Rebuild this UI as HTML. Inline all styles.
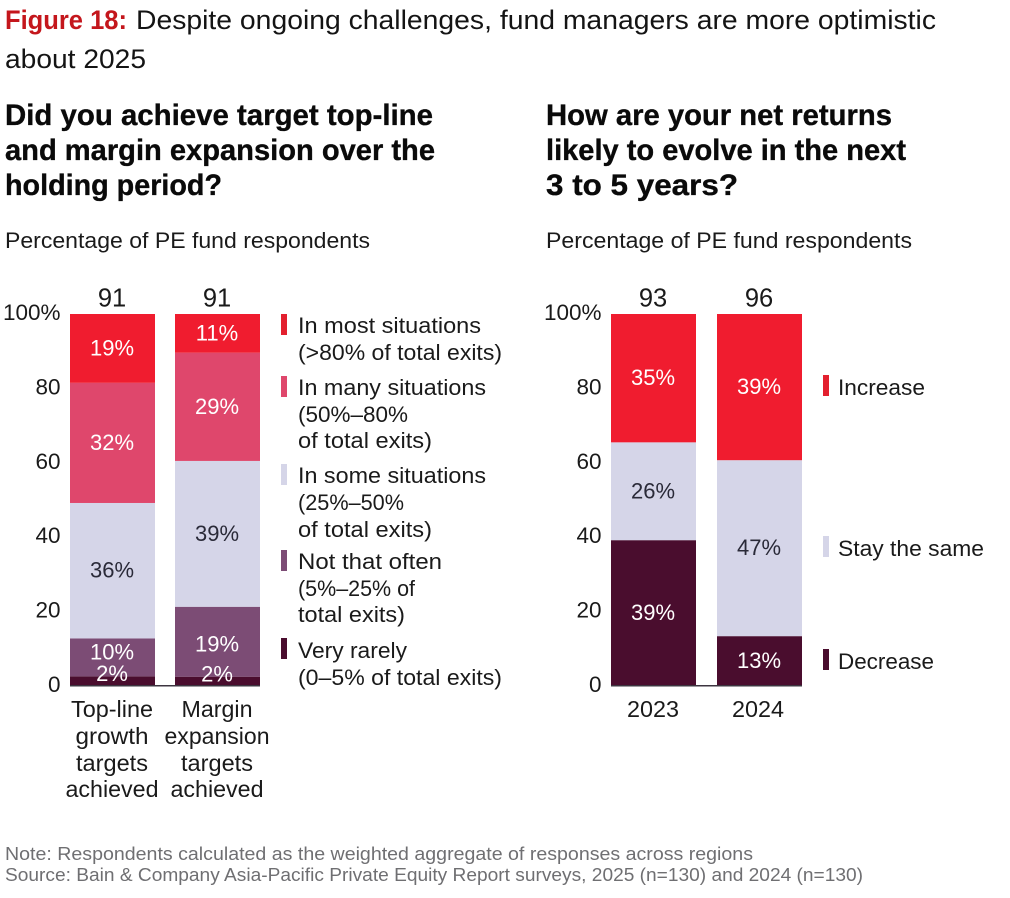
<!DOCTYPE html>
<html lang="en">
<head>
<meta charset="utf-8">
<title>Figure 18</title>
<style>
html,body{margin:0;padding:0;background:#fff;width:1010px;height:898px;overflow:hidden}
svg{display:block}
text{font-family:"Liberation Sans",sans-serif;fill:#1a1a1a}
.h{font-weight:700;font-size:29.5px;fill:#0a0a0a;stroke:#0a0a0a;stroke-width:.35px}
.t{font-size:26.5px;fill:#141414}
.sub{font-size:22px}
.lg{font-size:22.5px}
.ax{font-size:22.5px}
.cat{font-size:23.5px;text-anchor:middle}
.foot{font-size:18.5px;fill:#6f6f72}
</style>
</head>
<body>
<svg id="chart" xmlns="http://www.w3.org/2000/svg" width="1010" height="898" viewBox="0 0 1010 898">
  <rect width="1010" height="898" fill="#ffffff"/>
  <text x="5" y="29" class="t" style="font-weight:700;fill:#c4161c" textLength="122" lengthAdjust="spacingAndGlyphs">Figure 18:</text>
  <text x="136" y="29" class="t" textLength="800" lengthAdjust="spacingAndGlyphs">Despite ongoing challenges, fund managers are more optimistic</text>
  <text x="5" y="68" class="t" textLength="141" lengthAdjust="spacingAndGlyphs">about 2025</text>

  <g>
    <text x="5" y="125" class="h" textLength="428" lengthAdjust="spacingAndGlyphs">Did you achieve target top-line</text>
    <text x="5" y="160" class="h" textLength="430" lengthAdjust="spacingAndGlyphs">and margin expansion over the</text>
    <text x="5" y="195" class="h" textLength="217" lengthAdjust="spacingAndGlyphs">holding period?</text>
  </g>
  <text x="5" y="248" class="sub" textLength="365" lengthAdjust="spacingAndGlyphs">Percentage of PE fund respondents</text>

  <g>
    <text x="546" y="125" class="h" textLength="346" lengthAdjust="spacingAndGlyphs">How are your net returns</text>
    <text x="546" y="160" class="h" textLength="360" lengthAdjust="spacingAndGlyphs">likely to evolve in the next</text>
    <text x="546" y="195" class="h" textLength="192" lengthAdjust="spacingAndGlyphs">3 to 5 years?</text>
  </g>
  <text x="546" y="248" class="sub" textLength="366" lengthAdjust="spacingAndGlyphs">Percentage of PE fund respondents</text>

  <g id="plots"></g>

  <g>
    <text x="112" y="717" class="cat" textLength="82" lengthAdjust="spacingAndGlyphs">Top-line</text>
    <text x="112" y="744" class="cat" textLength="73" lengthAdjust="spacingAndGlyphs">growth</text>
    <text x="112" y="771" class="cat" textLength="72" lengthAdjust="spacingAndGlyphs">targets</text>
    <text x="112" y="797" class="cat" textLength="93" lengthAdjust="spacingAndGlyphs">achieved</text>
    <text x="217" y="717" class="cat" textLength="71" lengthAdjust="spacingAndGlyphs">Margin</text>
    <text x="217" y="744" class="cat" textLength="105" lengthAdjust="spacingAndGlyphs">expansion</text>
    <text x="217" y="771" class="cat" textLength="72" lengthAdjust="spacingAndGlyphs">targets</text>
    <text x="217" y="797" class="cat" textLength="93" lengthAdjust="spacingAndGlyphs">achieved</text>
  </g>
  <g>
    <text x="653" y="717" class="cat" textLength="52" lengthAdjust="spacingAndGlyphs">2023</text>
    <text x="758" y="717" class="cat" textLength="52" lengthAdjust="spacingAndGlyphs">2024</text>
  </g>

  <g>
    <g>
      <rect x="281" y="314" width="6" height="21" fill="#e3202f"/>
      <text x="298" y="333" class="lg" textLength="183" lengthAdjust="spacingAndGlyphs">In most situations</text>
      <text x="298" y="360" class="lg" textLength="204" lengthAdjust="spacingAndGlyphs">(&gt;80% of total exits)</text>
    </g>
    <g>
      <rect x="281" y="376" width="6" height="21" fill="#df476c"/>
      <text x="298" y="395" class="lg" textLength="188" lengthAdjust="spacingAndGlyphs">In many situations</text>
      <text x="298" y="422" class="lg" textLength="110" lengthAdjust="spacingAndGlyphs">(50%–80%</text>
      <text x="298" y="448" class="lg" textLength="134" lengthAdjust="spacingAndGlyphs">of total exits)</text>
    </g>
    <g>
      <rect x="281" y="464" width="6" height="21" fill="#d5d5e8"/>
      <text x="298" y="483" class="lg" textLength="188" lengthAdjust="spacingAndGlyphs">In some situations</text>
      <text x="298" y="510" class="lg" textLength="106" lengthAdjust="spacingAndGlyphs">(25%–50%</text>
      <text x="298" y="537" class="lg" textLength="134" lengthAdjust="spacingAndGlyphs">of total exits)</text>
    </g>
    <g>
      <rect x="281" y="550" width="6" height="21" fill="#7c4c75"/>
      <text x="298" y="569" class="lg" textLength="144" lengthAdjust="spacingAndGlyphs">Not that often</text>
      <text x="298" y="596" class="lg" textLength="117" lengthAdjust="spacingAndGlyphs">(5%–25% of</text>
      <text x="298" y="622" class="lg" textLength="107" lengthAdjust="spacingAndGlyphs">total exits)</text>
    </g>
    <g>
      <rect x="281" y="638" width="6" height="21" fill="#4a0d2e"/>
      <text x="298" y="658" class="lg" textLength="109" lengthAdjust="spacingAndGlyphs">Very rarely</text>
      <text x="298" y="685" class="lg" textLength="204" lengthAdjust="spacingAndGlyphs">(0–5% of total exits)</text>
    </g>
  </g>

  <g>
    <g>
      <rect x="823" y="375" width="6" height="21" fill="#e3202f"/>
      <text x="838" y="395" class="lg" textLength="87" lengthAdjust="spacingAndGlyphs">Increase</text>
    </g>
    <g>
      <rect x="823" y="536" width="6" height="21" fill="#d5d5e8"/>
      <text x="838" y="556" class="lg" textLength="146" lengthAdjust="spacingAndGlyphs">Stay the same</text>
    </g>
    <g>
      <rect x="823" y="649" width="6" height="21" fill="#4a0d2e"/>
      <text x="838" y="669" class="lg" textLength="96" lengthAdjust="spacingAndGlyphs">Decrease</text>
    </g>
  </g>

  <text x="5" y="860" class="foot" textLength="748" lengthAdjust="spacingAndGlyphs">Note: Respondents calculated as the weighted aggregate of responses across regions</text>
  <text x="5" y="881" class="foot" textLength="858" lengthAdjust="spacingAndGlyphs">Source: Bain &amp; Company Asia-Pacific Private Equity Report surveys, 2025 (n=130) and 2024 (n=130)</text>
</svg>
<script>
// Axis tick labels (shared by both charts)
var tickValues = [0, 20, 40, 60, 80, 100];

// Left chart data: segments listed bottom to top
var leftSampleSizes = [91, 91];
var leftRarely = [2.6, 2.5];
var leftNotOften = [10.2, 18.8];
var leftSome = [36.4, 39.2];
var leftMany = [32.3, 29.1];
var leftMost = [18.5, 10.4];
var leftRarelyLabels = ['2%', '2%'];
var leftNotOftenLabels = ['10%', '19%'];
var leftSomeLabels = ['36%', '39%'];
var leftManyLabels = ['32%', '29%'];
var leftMostLabels = ['19%', '11%'];

// Right chart data: segments listed bottom to top
var rightSampleSizes = [93, 96];
var rightDecrease = [39.2, 13.4];
var rightSame = [26.3, 47.3];
var rightIncrease = [34.5, 39.3];
var rightDecreaseLabels = ['39%', '13%'];
var rightSameLabels = ['26%', '47%'];
var rightIncreaseLabels = ['35%', '39%'];

var SVG_NS = 'http://www.w3.org/2000/svg';
var COLOR_RED = '#f01c2f';
var COLOR_PINK = '#df476c';
var COLOR_LILAC = '#d5d5e8';
var COLOR_PLUM = '#7c4c75';
var COLOR_DARK = '#4a0d2e';
var INK = '#2a2a38';
var plots = document.getElementById('plots');

function make(tag, parent, attrs) {
  var el = document.createElementNS(SVG_NS, tag);
  Object.keys(attrs).forEach(function (k) { el.setAttribute(k, attrs[k]); });
  parent.appendChild(el);
  return el;
}

// Shared value axis: 0 at the baseline, 100 at the top of the plot
var PLOT_TOP = 314;
var PLOT_BOTTOM = 686;
function yScale(v) {
  return PLOT_BOTTOM - (v / 100) * (PLOT_BOTTOM - PLOT_TOP);
}

function drawChart(cfg) {
  var group = make('g', plots, {});
  
  

  tickValues.forEach(function (t) {
    var tick = make('text', group, { x: cfg.axisX, y: yScale(t) + 6, 'text-anchor': 'end', 'class': 'ax' });
    
    
    tick.textContent = t === 100 ? '100%' : String(t);
  });

  cfg.barX.forEach(function (x, b) {
    var total = cfg.series.reduce(function (sum, s) { return sum + s.values[b]; }, 0);
    var cumulative = 0;
    cfg.series.forEach(function (s) {
      var v = s.values[b] / total * 100;
      var y0 = yScale(cumulative);
      var y1 = yScale(cumulative + v);
      cumulative += v;
      var seg = make('rect', group, { x: x, y: y1, width: cfg.barW, height: y0 - y1, fill: s.color });
      
      
    });
    cumulative = 0;
    cfg.series.forEach(function (s, i) {
      var v = s.values[b] / total * 100;
      var mid = yScale(cumulative + v / 2);
      cumulative += v;
      var nudge = v < 5 ? -7 : 0;
      if (i === 1 && cfg.series[0].values[b] < 5) nudge = v < 15 ? -5 : 3;
      var lab = make('text', group, {
        x: x + cfg.barW / 2 - 0.5, y: mid + nudge + 7, 'text-anchor': 'middle',
        'font-size': '22', style: 'fill:' + s.labelColor
      });
      
      
      lab.textContent = s.labels[b];
    });
    var n = make('text', group, { x: x + cfg.barW / 2 - 0.5, y: 306.5, 'text-anchor': 'middle', 'font-size': '25.5' });
    
    
    n.textContent = String(cfg.sizes[b]);
  });

  var base = make('line', group, {
    x1: cfg.barX[0], x2: cfg.barX[cfg.barX.length - 1] + cfg.barW,
    y1: PLOT_BOTTOM - 0.25, y2: PLOT_BOTTOM - 0.25, stroke: '#3c3540', 'stroke-width': 1.5
  });
  
  
}

drawChart({
  name: 'left-chart', axisX: 60.5, barX: [70, 175], barW: 85, sizes: leftSampleSizes,
  series: [
    { values: leftRarely, labels: leftRarelyLabels, color: COLOR_DARK, labelColor: '#ffffff' },
    { values: leftNotOften, labels: leftNotOftenLabels, color: COLOR_PLUM, labelColor: '#ffffff' },
    { values: leftSome, labels: leftSomeLabels, color: COLOR_LILAC, labelColor: INK },
    { values: leftMany, labels: leftManyLabels, color: COLOR_PINK, labelColor: '#ffffff' },
    { values: leftMost, labels: leftMostLabels, color: COLOR_RED, labelColor: '#ffffff' }
  ]
});

drawChart({
  name: 'right-chart', axisX: 601.5, barX: [611, 717], barW: 85, sizes: rightSampleSizes,
  series: [
    { values: rightDecrease, labels: rightDecreaseLabels, color: COLOR_DARK, labelColor: '#ffffff' },
    { values: rightSame, labels: rightSameLabels, color: COLOR_LILAC, labelColor: INK },
    { values: rightIncrease, labels: rightIncreaseLabels, color: COLOR_RED, labelColor: '#ffffff' }
  ]
});
</script>
</body>
</html>
